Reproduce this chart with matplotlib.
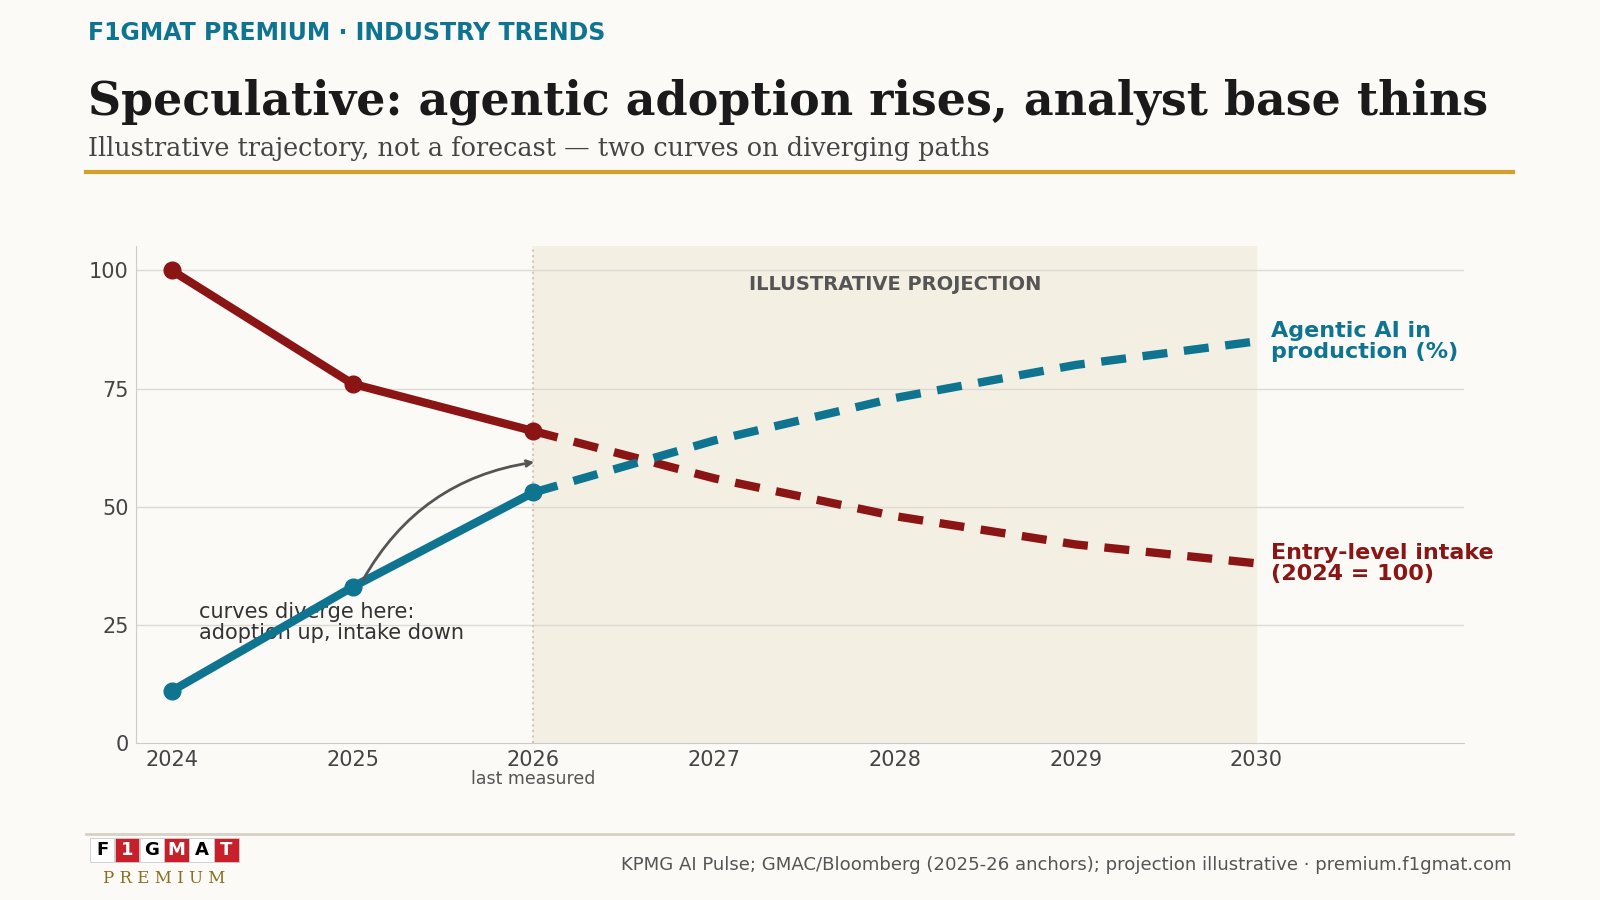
import matplotlib
matplotlib.use("Agg")
import matplotlib.pyplot as plt
from matplotlib.patches import Rectangle

years_meas = [2024, 2025, 2026]
intake_meas = [100, 76, 66]
adopt_meas = [11, 33, 53]
years_proj = [2026, 2027, 2028, 2029, 2030]
intake_proj = [66, 56, 48, 42, 38]
adopt_proj = [53, 64, 73, 80, 85]
yticks = [0, 25, 50, 75, 100]
xticks = [2024, 2025, 2026, 2027, 2028, 2029, 2030]

RED = "#8b1414"; BLUE = "#0e7490"; BG = "#fbfaf7"
W, H = 1568, 882
fig = plt.figure(figsize=(16, 9), dpi=100, facecolor=BG)
def fx(px): return px / W
def fy(py): return 1 - py / H

ax = fig.add_axes([fx(133), fy(728), fx(1435) - fx(133), fy(241) - fy(728)])
ax.set_facecolor(BG)
ax.set_xlim(2023.8, 2031.15)
ax.set_ylim(0, 105.2)
ax.axvspan(2026, 2030, color="#f3efe3", zorder=0)
ax.axvline(2026, color="#d9c2b8", ls=":", lw=1.5, zorder=1)
for y in yticks[1:]:
    ax.axhline(y, color="#dddad3", lw=1, zorder=0.5)
ax.plot(years_meas, intake_meas, color=RED, lw=6, marker="o", ms=12, zorder=4)
ax.plot(years_meas, adopt_meas, color=BLUE, lw=6, marker="o", ms=12, zorder=4)
ax.plot(years_proj, intake_proj, color=RED, lw=6, ls=(0, (3, 2)), zorder=3)
ax.plot(years_proj, adopt_proj, color=BLUE, lw=6, ls=(0, (3, 2)), zorder=3)
ax.set_xticks(xticks)
ax.set_yticks(yticks)
ax.tick_params(length=0, labelsize=15, colors="#444444", pad=5)
for s in ["top", "right"]:
    ax.spines[s].set_visible(False)
for s in ["left", "bottom"]:
    ax.spines[s].set_color("#cccccc")
ax.text(2028, 97, "ILLUSTRATIVE PROJECTION", ha="center", va="center",
        fontsize=14, fontweight="bold", color="#555555")
ax.text(2030.08, 85, "Agentic AI in\nproduction (%)", color=BLUE, fontsize=16,
        fontweight="bold", va="center", linespacing=1.1)
ax.text(2030.08, 38, "Entry-level intake\n(2024 = 100)", color=RED, fontsize=16,
        fontweight="bold", va="center", linespacing=1.1)
ax.text(2024.15, 25.5, "curves diverge here:\nadoption up, intake down", fontsize=15,
        color="#333333", va="center", linespacing=1.1, zorder=2)
ax.annotate("", xy=(2026.02, 59.5), xytext=(2025.05, 34),
            arrowprops=dict(arrowstyle="->", color="#555555", lw=2,
                            connectionstyle="arc3,rad=-0.25"), zorder=5)
ax.text(2026, -7.6, "last measured", ha="center", va="center", fontsize=12.5, color="#555555")

fig.text(fx(86), fy(32), "F1GMAT PREMIUM · INDUSTRY TRENDS", color=BLUE, fontsize=17,
         fontweight="bold", va="center")
fig.text(fx(86), fy(100), "Speculative: agentic adoption rises, analyst base thins",
         family="DejaVu Serif", fontsize=33, fontweight="bold", color="#1a1a1a", va="center")
fig.text(fx(86), fy(146), "Illustrative trajectory, not a forecast — two curves on diverging paths",
         family="DejaVu Serif", fontsize=18.4, color="#444444", va="center")
fig.add_artist(plt.Line2D([fx(84), fx(1483)], [fy(169)] * 2, color="#d4a02a", lw=3))
fig.add_artist(plt.Line2D([fx(84), fx(1483)], [fy(817)] * 2, color="#d5d1c5", lw=2))
fig.text(fx(1481), fy(848), "KPMG AI Pulse; GMAC/Bloomberg (2025-26 anchors); projection illustrative · premium.f1gmat.com",
         ha="right", va="center", fontsize=13.1, color="#555555")
letters = "F1GMAT"
for i, c in enumerate(letters):
    red = i % 2 == 1
    x0 = 88 + i * 24.4
    fig.add_artist(Rectangle((fx(x0), fy(845)), fx(24), fy(821) - fy(845),
                             facecolor="#c8202a" if red else "white",
                             edgecolor="#cccccc", lw=0.6))
    fig.text(fx(x0 + 12), fy(833), c, ha="center", va="center", fontsize=13,
             fontweight="bold", color="white" if red else "black")
fig.text(fx(161), fy(861), "P R E M I U M", ha="center", va="center", family="DejaVu Serif",
         fontsize=12, color="#8a6d1e")
fig.savefig("out.png", dpi=100, facecolor=BG)
